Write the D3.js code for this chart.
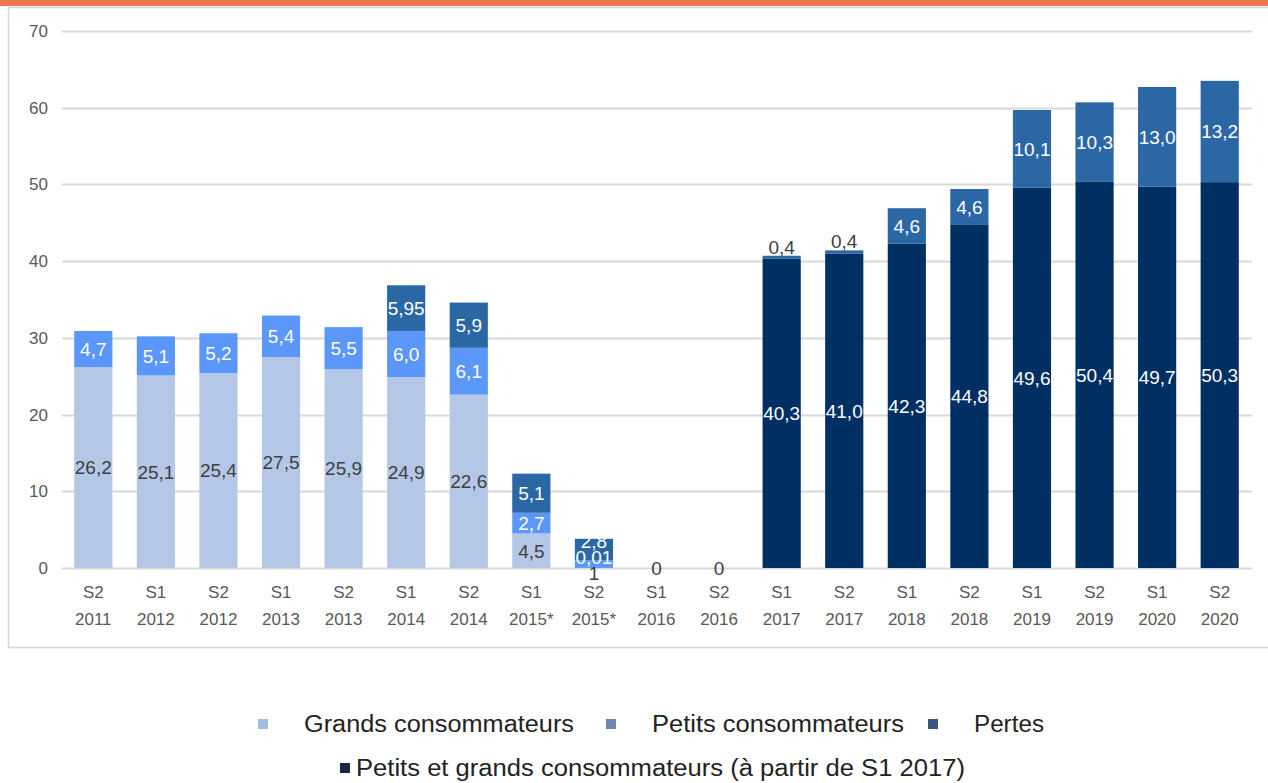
<!DOCTYPE html>
<html>
<head>
<meta charset="utf-8">
<script src="https://cdn.jsdelivr.net/npm/d3@7"></script>
<style>
  body { margin: 0; background: #fff; }
  svg { display: block; }
</style>
</head>
<body>
<div id="chart"></div>
<script>
// Categories (semester + year)
const semesters = ["S2","S1","S2","S1","S2","S1","S2","S1","S2","S1","S2","S1","S2","S1","S2","S1","S2","S1","S2"];
const years = ["2011","2012","2012","2013","2013","2014","2014","2015*","2015*","2016","2016","2017","2017","2018","2018","2019","2019","2020","2020"];

// Series values
const grands  = [26.2, 25.1, 25.4, 27.5, 25.9, 24.9, 22.6, 4.5, 0.01, 0, 0, 0, 0, 0, 0, 0, 0, 0, 0];
const petits  = [4.7, 5.1, 5.2, 5.4, 5.5, 6.0, 6.1, 2.7, 1.0, 0, 0, 0, 0, 0, 0, 0, 0, 0, 0];
const pertes  = [0, 0, 0, 0, 0, 5.95, 5.9, 5.1, 2.8, 0, 0, 0.4, 0.4, 4.6, 4.6, 10.1, 10.3, 13.0, 13.2];
const combine = [0, 0, 0, 0, 0, 0, 0, 0, 0, 0, 0, 40.3, 41.0, 42.3, 44.8, 49.6, 50.4, 49.7, 50.3];

// Data labels as displayed in the picture ("" = no label)
const grandsLabels  = ["26,2","25,1","25,4","27,5","25,9","24,9","22,6","4,5","1","0","0","","","","","","","",""];
const petitsLabels  = ["4,7","5,1","5,2","5,4","5,5","6,0","6,1","2,7","0,01","","","","","","","","","",""];
const pertesLabels  = ["","","","","","5,95","5,9","5,1","2,8","","","0,4","0,4","4,6","4,6","10,1","10,3","13,0","13,2"];
const combineLabels = ["","","","","","","","","","","","40,3","41,0","42,3","44,8","49,6","50,4","49,7","50,3"];

const yTicks = [0, 10, 20, 30, 40, 50, 60, 70];

const legendRow1 = ["Grands consommateurs", "Petits consommateurs", "Pertes"];
const legendRow2 = "Petits et grands consommateurs (à partir de S1 2017)";

// Stack order: bottom to top
const series = [
  { key: "grands",  values: grands,  labels: grandsLabels,  color: "#b4c7e7", text: "#404040" },
  { key: "combine", values: combine, labels: combineLabels, color: "#003063", text: "#ffffff" },
  { key: "petits",  values: petits,  labels: petitsLabels,  color: "#5b97f9", text: "#ffffff" },
  { key: "pertes",  values: pertes,  labels: pertesLabels,  color: "#2c67a5", text: "#ffffff" }
];

const W = 1268, H = 783;
const svg = d3.select("#chart").append("svg")
  .attr("width", W)
  .attr("height", H);

// Orange title banner (title itself is cut off in the source)
svg.append("rect")
  .attr("x", 0).attr("y", 0)
  .attr("width", W).attr("height", 6)
  .attr("fill", "#ee7752");

// Chart frame
svg.append("rect")
  .attr("x", 8.5).attr("y", 7.5)
  .attr("width", W + 10).attr("height", 640)
  .attr("fill", "none")
  .attr("stroke", "#d6d6d6")
  .attr("stroke-width", 1.5);

const ids = semesters.map((s, i) => i);

const x = d3.scaleBand()
  .domain(ids)
  .range([62, 1251])
  .paddingInner(0.39)
  .paddingOuter(0.195);

const y = d3.scaleLinear()
  .domain([0, 70])
  .range([568, 31]);

// Gridlines
svg.append("g")
  .selectAll("line")
  .data(yTicks)
  .join("line")
  .attr("x1", 62)
  .attr("x2", 1252)
  .attr("y1", d => Math.round(y(d)) + 0.5)
  .attr("y2", d => Math.round(y(d)) + 0.5)
  .attr("stroke", "#d9d9d9")
  .attr("stroke-width", 2);

// Y axis labels
svg.append("g")
  .selectAll("text")
  .data(yTicks)
  .join("text")
  .attr("x", 48)
  .attr("y", d => y(d))
  .attr("dy", "0.35em")
  .attr("text-anchor", "end")
  .attr("fill", "#595959")
  .style("font-family", "'Liberation Sans', Arial, sans-serif")
  .style("font-size", "17px")
  .text(d => d);

// X axis labels (two lines)
const xl = svg.append("g")
  .selectAll("text")
  .data(ids)
  .join("text")
  .attr("text-anchor", "middle")
  .attr("fill", "#595959")
  .style("font-family", "'Liberation Sans', Arial, sans-serif")
  .style("font-size", "17px");
xl.append("tspan")
  .attr("x", i => x(i) + x.bandwidth() / 2)
  .attr("y", 598)
  .text(i => semesters[i]);
xl.append("tspan")
  .attr("x", i => x(i) + x.bandwidth() / 2)
  .attr("y", 625)
  .text(i => years[i]);

// Build stacked segments
const segments = [];
ids.forEach(i => {
  let base = 0;
  series.forEach(s => {
    const v = s.values[i];
    segments.push({ i, key: s.key, y0: base, y1: base + v, label: s.labels[i], color: s.color, text: s.text });
    base += v;
  });
});

svg.append("g")
  .selectAll("rect")
  .data(segments.filter(d => d.y1 > d.y0))
  .join("rect")
  .attr("x", d => x(d.i))
  .attr("width", x.bandwidth())
  .attr("y", d => y(d.y1))
  .attr("height", d => y(d.y0) - y(d.y1))
  .attr("fill", d => d.color);

// Label placement: centred in segment, nudged for very thin segments
const labelled = segments.filter(d => d.label !== "");
labelled.forEach(d => {
  const h = y(d.y0) - y(d.y1);
  d.ly = (y(d.y0) + y(d.y1)) / 2;
  d.fill = d.text;
  if (d.label === "0") {
    d.fill = "#404040";
  } else if (h < 6 && d.key === "pertes") {
    d.ly = y(d.y1) - 9;
    d.fill = "#404040";
  } else if (h < 6) {
    d.ly += 5;
    d.fill = "#404040";
  }
});
// push crowded labels apart within a bar
ids.forEach(i => {
  const ls = labelled.filter(d => d.i === i && d.label !== "0");
  for (let k = 1; k < ls.length; k++) {
    if (ls[k - 1].ly - ls[k].ly < 16) ls[k].ly = ls[k - 1].ly - 16;
  }
});

svg.append("g")
  .selectAll("text")
  .data(labelled)
  .join("text")
  .attr("x", d => x(d.i) + x.bandwidth() / 2)
  .attr("y", d => d.ly)
  .attr("dy", "0.36em")
  .attr("text-anchor", "middle")
  .attr("fill", d => d.fill)
  .style("font-family", "'Liberation Sans', Arial, sans-serif")
  .style("font-size", "19px")
  .text(d => d.label);

// Legend
const legendColors = ["#a3bde0", "#6e86b3", "#3e5482"];
const legendX = [258, 606, 928];
const legendLen = [270, 252, 70];
const lg = svg.append("g")
  .style("font-family", "'Liberation Sans', Arial, sans-serif")
  .style("font-size", "23px");
legendRow1.forEach((t, k) => {
  lg.append("rect")
    .attr("x", legendX[k]).attr("y", 719)
    .attr("width", 10).attr("height", 10)
    .attr("fill", legendColors[k]);
  lg.append("text")
    .attr("x", legendX[k] + 46).attr("y", 732)
    .attr("fill", "#222")
    .attr("textLength", legendLen[k])
    .attr("lengthAdjust", "spacingAndGlyphs")
    .text(t);
});
lg.append("rect")
  .attr("x", 340).attr("y", 763)
  .attr("width", 10).attr("height", 10)
  .attr("fill", "#1b2640");
lg.append("text")
  .attr("x", 356).attr("y", 776)
  .attr("fill", "#222")
  .attr("textLength", 609)
  .attr("lengthAdjust", "spacingAndGlyphs")
  .text(legendRow2);
</script>
</body>
</html>
